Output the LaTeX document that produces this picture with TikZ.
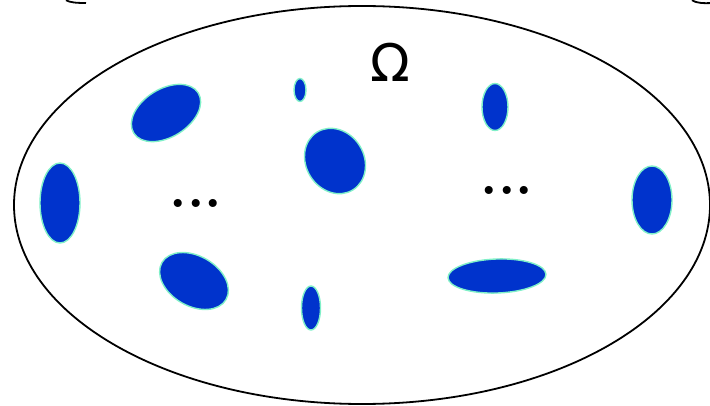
\documentclass[tikz,border=0pt]{standalone}
\usepackage{fontspec}
\setmainfont{DejaVu Sans}
\newfontfamily\lmdots{Latin Modern Roman}
\definecolor{blob}{HTML}{0033CC}
\definecolor{rim}{HTML}{80F0C8}
\begin{document}
\begin{tikzpicture}[x=1pt,y=-1pt,
  blobstyle/.style={fill=blob,draw=rim,line width=1.4pt},
  bigtext/.style={font=\fontsize{52}{60}\selectfont,inner sep=0pt},
  dottext/.style={font=\lmdots\fontsize{56}{64}\selectfont\bfseries,inner sep=0pt}]
\useasboundingbox (0,0) rectangle (710,406);
% outer domain
\draw[line width=1.8pt] (362,205) ellipse [x radius=348, y radius=199];
% cropped fragments at top
\draw[line width=1.8pt] (66,0.2) .. controls (70,2.5) and (76,3) .. (86,3);
\draw[line width=1.8pt] (692,0.2) .. controls (696,3) and (703,3.5) .. (712,3);
% inclusions
\path[blobstyle] (166,113) ellipse [x radius=38, y radius=24, rotate=32];
\path[blobstyle] (300,90) ellipse [x radius=6, y radius=11.5];
\path[blobstyle] (335,161) ellipse [x radius=34, y radius=29, rotate=-58];
\path[blobstyle] (495,107) ellipse [x radius=13, y radius=23.5];
\path[blobstyle] (60,203) ellipse [x radius=20, y radius=40];
\path[blobstyle] (652,200) ellipse [x radius=20, y radius=34];
\path[blobstyle] (194,281) ellipse [x radius=37, y radius=25, rotate=-30];
\path[blobstyle] (311,308) ellipse [x radius=9.5, y radius=22];
\path[blobstyle] (497,276) ellipse [x radius=49, y radius=17, rotate=2];
% labels
\node[bigtext,anchor=base] (omega) at (390,82) {Ω};
\node[dottext,anchor=base] (dl) at (196,207.5) {...};
\node[dottext,anchor=base] (dr) at (507,194.5) {...};
\end{tikzpicture}
\end{document}
